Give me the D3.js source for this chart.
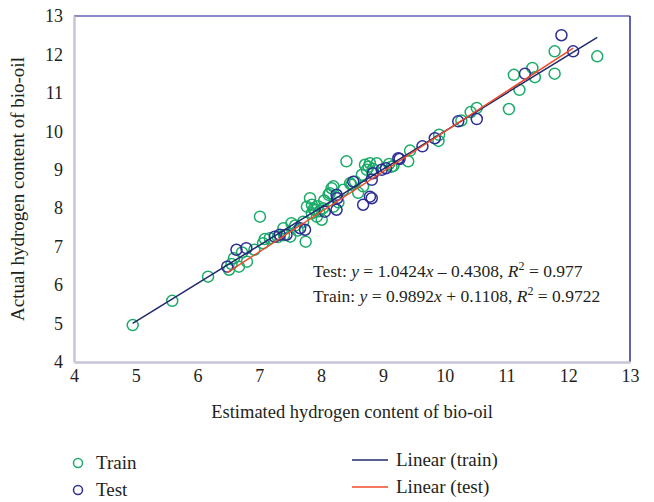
<!DOCTYPE html>
<html>
<head>
<meta charset="utf-8">
<script src="https://cdn.jsdelivr.net/npm/d3@7"></script>
<style>
  body { margin: 0; background: #fff; }
  text { font-family: "Liberation Serif", "DejaVu Serif", serif; fill: #231f20; }
</style>
</head>
<body>
<div id="container"></div>
<script>
const w = 654
const h = 502

// [estimated, actual]
const trainPoints = [
  [4.95, 4.96], [5.59, 5.59], [6.17, 6.22], [6.51, 6.40], [6.59, 6.70], [6.67, 6.48],
  [6.80, 6.61], [6.72, 6.85], [6.92, 6.92], [7.06, 7.09], [7.09, 7.20], [7.17, 7.22],
  [7.01, 7.78], [7.39, 7.48], [7.50, 7.26], [7.52, 7.61], [7.58, 7.55], [7.75, 7.13],
  [7.71, 7.65], [7.82, 8.26], [7.85, 8.09], [7.77, 8.04], [7.85, 7.87], [7.93, 7.78],
  [7.90, 7.95], [8.01, 7.70], [8.03, 8.00], [7.97, 7.92], [8.12, 8.35], [8.17, 8.52],
  [8.20, 8.04], [8.14, 8.39], [8.20, 8.57], [8.36, 8.48], [8.41, 9.22], [8.47, 8.65],
  [8.49, 8.61], [8.55, 8.69], [8.68, 8.57], [8.66, 8.87], [8.71, 9.13], [8.74, 9.00],
  [8.79, 9.17], [8.84, 9.02], [8.90, 9.17], [8.77, 9.08], [9.14, 9.08], [9.10, 9.15],
  [9.17, 9.10], [9.41, 9.22], [9.44, 9.50], [9.90, 9.75], [9.91, 9.91], [10.27, 10.28],
  [10.42, 10.50], [10.52, 10.61], [11.04, 10.58], [11.21, 11.08], [11.12, 11.47],
  [11.42, 11.65], [11.46, 11.41], [11.78, 12.08], [11.78, 11.50], [12.47, 11.95],
  [8.28, 8.15], [8.60, 8.40], [7.62, 7.42], [7.30, 7.25], [6.55, 6.55], [7.40, 7.30],
  [7.95, 8.05], [8.05, 8.20], [7.88, 7.98]
]
const testPoints = [
  [6.48, 6.48], [6.63, 6.92], [6.79, 6.96], [7.25, 7.26], [7.33, 7.31], [7.44, 7.31],
  [7.66, 7.48], [7.74, 7.44], [8.06, 7.91], [8.25, 7.96], [8.25, 8.35], [8.26, 8.26],
  [8.52, 8.69], [8.68, 8.09], [8.79, 8.30], [8.82, 8.26], [8.82, 8.74], [8.84, 8.91],
  [8.98, 9.00], [9.05, 9.04], [9.25, 9.30], [9.27, 9.28], [9.64, 9.61], [9.84, 9.82],
  [10.22, 10.26], [10.52, 10.32], [11.30, 11.50], [11.89, 12.50], [12.08, 12.08]
]
// fitted lines: slope, intercept
const trainFit = [0.9892, 0.1108]
const testFit = [1.0424, -0.4308]
const ticks = [4, 5, 6, 7, 8, 9, 10, 11, 12, 13]

const green = '#1aab69'
const blue = '#2e2e96'
const serif = '"Liberation Serif", "DejaVu Serif", serif'

const pLeft = 74, pRight = 630, pTop = 16, pBottom = 362

const scaleX = d3.scaleLinear([4, 13], [pLeft, pRight])
const scaleY = d3.scaleLinear([4, 13], [pBottom, pTop])

const svg = d3.select('#container')
    .append('svg')
    .attr('width', w)
    .attr('height', h)

// frame
svg.append('line').attr('x1', pLeft).attr('x2', pRight).attr('y1', pTop).attr('y2', pTop)
    .attr('stroke', '#6464b4').attr('stroke-width', 1.5)
svg.append('line').attr('x1', pRight).attr('x2', pRight).attr('y1', pTop).attr('y2', pBottom)
    .attr('stroke', '#2b2b9e').attr('stroke-width', 1.5)

const axisX = d3.axisBottom(scaleX).tickValues(ticks).tickSize(0).tickPadding(7)
const axisY = d3.axisLeft(scaleY).tickValues(ticks).tickSize(0).tickPadding(11)

const gx = svg.append('g').attr('transform', `translate(0,${pBottom})`).call(axisX)
const gy = svg.append('g').attr('transform', `translate(${pLeft},0)`).call(axisY)
;[gx, gy].forEach(g => {
    g.attr('font-family', serif).attr('font-size', 18)
    g.select('.domain').attr('stroke', '#c6c6d6').attr('stroke-width', 2.5)
    g.selectAll('text').attr('fill', '#231f20')
})

// points
svg.append('g').selectAll('circle')
    .data(trainPoints)
    .enter()
    .append('circle')
    .attr('cx', d => scaleX(d[0]))
    .attr('cy', d => scaleY(d[1]))
    .attr('r', 5.5)
    .attr('fill', 'none')
    .attr('stroke', green)
    .attr('stroke-width', 1.5)

svg.append('g').selectAll('circle')
    .data(testPoints)
    .enter()
    .append('circle')
    .attr('cx', d => scaleX(d[0]))
    .attr('cy', d => scaleY(d[1]))
    .attr('r', 5.5)
    .attr('fill', 'none')
    .attr('stroke', blue)
    .attr('stroke-width', 1.5)

// fit lines
const fitLine = (pts, fit, color) => {
    const x0 = d3.min(pts, d => d[0]), x1 = d3.max(pts, d => d[0])
    svg.append('line')
        .attr('x1', scaleX(x0)).attr('y1', scaleY(fit[0] * x0 + fit[1]))
        .attr('x2', scaleX(x1)).attr('y2', scaleY(fit[0] * x1 + fit[1]))
        .attr('stroke', color)
        .attr('stroke-width', 1.5)
}
fitLine(trainPoints, trainFit, '#1f2a6e')
fitLine(testPoints, testFit, '#f04a2a')

// equations
const eq = (y, label, fit, r2) => {
    const t = svg.append('text').attr('x', 313).attr('y', y).style('font-size', '17.5px')
    t.append('tspan').text(label + ': ')
    t.append('tspan').text('y').style('font-style', 'italic')
    t.append('tspan').text(` = ${fit[0].toFixed(4)}`)
    t.append('tspan').text('x').style('font-style', 'italic')
    const b = fit[1]
    t.append('tspan').text(` ${b < 0 ? '\u2013' : '+'} ${Math.abs(b).toFixed(4)}, `)
    t.append('tspan').text('R').style('font-style', 'italic')
    t.append('tspan').text('2').attr('dy', -7).style('font-size', '12px')
    t.append('tspan').text(` = ${r2}`).attr('dy', 7)
}
eq(277, 'Test', testFit, '0.977')
eq(302, 'Train', trainFit, '0.9722')

// axis titles
svg.append('text')
    .attr('x', (pLeft + pRight) / 2)
    .attr('y', 418)
    .attr('text-anchor', 'middle')
    .style('font-size', '18.5px')
    .text('Estimated hydrogen content of bio-oil')

svg.append('text')
    .attr('transform', `translate(24,${(pTop + pBottom) / 2}) rotate(-90)`)
    .attr('text-anchor', 'middle')
    .style('font-size', '19px')
    .text('Actual hydrogen content of bio-oil')

// legend
const legend = svg.append('g')
const items = [
    { type: 'circle', color: green, label: 'Train', x: 78, y: 463 },
    { type: 'circle', color: blue, label: 'Test', x: 78, y: 490 },
    { type: 'line', color: '#1f2a6e', label: 'Linear (train)', x: 352, y: 460 },
    { type: 'line', color: '#f04a2a', label: 'Linear (test)', x: 352, y: 487 }
]
items.forEach(d => {
    if (d.type === 'circle') {
        legend.append('circle').attr('cx', d.x).attr('cy', d.y).attr('r', 4.5)
            .attr('fill', 'none').attr('stroke', d.color).attr('stroke-width', 1.5)
        legend.append('text').attr('x', d.x + 18).attr('y', d.y + 6)
            .style('font-size', '19px').text(d.label)
    } else {
        legend.append('line').attr('x1', d.x).attr('x2', d.x + 36).attr('y1', d.y).attr('y2', d.y)
            .attr('stroke', d.color).attr('stroke-width', 1.5)
        legend.append('text').attr('x', d.x + 44).attr('y', d.y + 6)
            .style('font-size', '19px').text(d.label)
    }
})
</script>
</body>
</html>
